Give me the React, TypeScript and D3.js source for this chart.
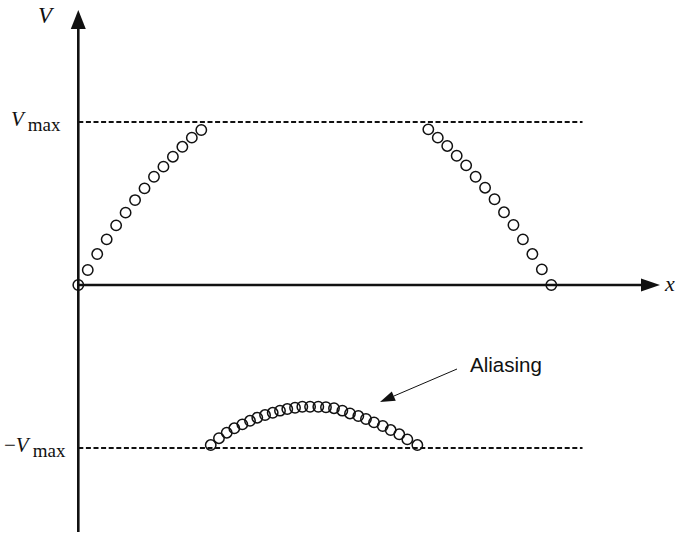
import React from "react";
import * as d3 from "d3";

// Sample positions (in sample-spacing units) and measured velocities (in units of Vmax)
const risingX = [0, 1, 2, 3, 4, 5, 6, 7, 8, 9, 10, 11, 12, 13];
const risingV = [0, 0.092, 0.19, 0.28, 0.366, 0.444, 0.521, 0.593, 0.664, 0.726, 0.787, 0.848, 0.904, 0.951];

const fallingX = [37, 38, 39, 40, 41, 42, 43, 44, 45, 46, 47, 48, 49, 50];
const fallingV = [0.955, 0.904, 0.853, 0.793, 0.734, 0.664, 0.597, 0.526, 0.446, 0.368, 0.28, 0.19, 0.096, 0];

// Aliased segment: values that exceeded Vmax wrap around to the negative side
const aliasedX = [
  14.0, 14.87, 15.69, 16.49, 17.34, 18.15, 18.92, 19.74, 20.55, 21.32, 22.09, 22.91, 23.68, 24.5,
  25.37, 26.18, 27.03, 27.91, 28.72, 29.6, 30.41, 31.26, 32.18, 33.02, 33.93, 34.78, 35.84,
];
const aliasedV = [
  -0.982, -0.94, -0.906, -0.879, -0.855, -0.833, -0.814, -0.798, -0.784, -0.771, -0.761, -0.753, -0.747, -0.747,
  -0.747, -0.75, -0.756, -0.771, -0.788, -0.804, -0.822, -0.843, -0.865, -0.89, -0.916, -0.947, -0.982,
];

const limitLevels = [1, -1];
const limitExtent = [0, 53.3];

const W = 675;
const H = 536;

const x = d3.scaleLinear().domain([0, 1]).range([78.3, 78.3 + 9.46]);
const y = d3.scaleLinear().domain([0, 1]).range([285, 122]);

const serif = "'Liberation Serif', 'Times New Roman', serif";
const sans = "'Liberation Sans', Arial, sans-serif";

function Samples({ xs, vs }: { xs: number[]; vs: number[] }) {
  return (
    <g fill="none" stroke="#111" strokeWidth={1.5}>
      {xs.map((xv, i) => (
        <circle key={i} cx={x(xv)} cy={y(vs[i])} r={5.2} />
      ))}
    </g>
  );
}

export default function App() {
  const x0 = x(0);
  const y0 = y(0);
  const axisTop = 10;
  const axisBottom = 532;
  const axisRight = 660;

  // Annotation arrow from the label to the aliased arc
  const arrowFrom: [number, number] = [457, 369];
  const arrowTo: [number, number] = [380, 402];
  const ang = Math.atan2(arrowTo[1] - arrowFrom[1], arrowTo[0] - arrowFrom[0]);
  const headLen = 15;
  const headHalf = 5;
  const bx = arrowTo[0] - headLen * Math.cos(ang);
  const by = arrowTo[1] - headLen * Math.sin(ang);
  const px = -Math.sin(ang) * headHalf;
  const py = Math.cos(ang) * headHalf;

  return (
    <svg
      width={W}
      height={H}
      viewBox={`0 0 ${W} ${H}`}
      style={{ position: "absolute", left: 0, top: 0, background: "#fff" }}
    >
      {/* Vmax / -Vmax limits */}
      {limitLevels.map((lv) => (
        <line
          key={lv}
          x1={x(limitExtent[0])}
          x2={x(limitExtent[1])}
          y1={y(lv)}
          y2={y(lv)}
          stroke="#111"
          strokeWidth={2.1}
          strokeDasharray="5,2.6"
        />
      ))}

      {/* Axes */}
      <line x1={x0} x2={x0} y1={axisBottom} y2={axisTop + 16} stroke="#111" strokeWidth={2.6} />
      <path d={`M${x0},${axisTop} L${x0 - 7.5},${axisTop + 19} L${x0 + 7.5},${axisTop + 19} Z`} fill="#111" />
      <line x1={x0} x2={axisRight - 16} y1={y0} y2={y0} stroke="#111" strokeWidth={2.6} />
      <path d={`M${axisRight},${y0} L${axisRight - 19},${y0 - 6.5} L${axisRight - 19},${y0 + 6.5} Z`} fill="#111" />

      <Samples xs={risingX} vs={risingV} />
      <Samples xs={fallingX} vs={fallingV} />
      <Samples xs={aliasedX} vs={aliasedV} />

      {/* Annotation */}
      <line x1={arrowFrom[0]} y1={arrowFrom[1]} x2={bx} y2={by} stroke="#111" strokeWidth={1} />
      <path d={`M${arrowTo[0]},${arrowTo[1]} L${bx + px},${by + py} L${bx - px},${by - py} Z`} fill="#111" />
      <text x={470} y={372} fontFamily={sans} fontSize={20.5} fill="#111">
        Aliasing
      </text>

      {/* Labels */}
      <text x={38} y={23} fontFamily={serif} fontSize={23} fontStyle="italic" fill="#111">
        V
      </text>
      <text x={665} y={291} fontFamily={serif} fontSize={22} fontStyle="italic" fill="#111">
        x
      </text>
      <text x={11} y={y(1) + 4} fontFamily={serif} fill="#111">
        <tspan fontStyle="italic" fontSize={21}>V</tspan>
        <tspan fontSize={19} dy={5} dx={4}>max</tspan>
      </text>
      <text x={4} y={y(-1) + 4} fontFamily={serif} fill="#111">
        <tspan fontSize={21}>−</tspan>
        <tspan fontStyle="italic" fontSize={21}>V</tspan>
        <tspan fontSize={19} dy={5} dx={4}>max</tspan>
      </text>
    </svg>
  );
}
